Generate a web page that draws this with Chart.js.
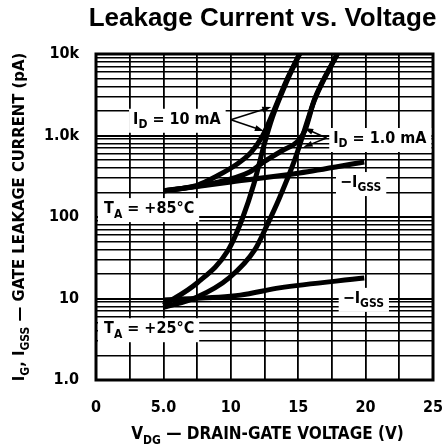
<!DOCTYPE html>
<html>
<head>
<meta charset="utf-8">
<script src="https://cdn.jsdelivr.net/npm/chart.js@4.4.1/dist/chart.umd.min.js"></script>
<style>
  html, body { margin: 0; padding: 0; background: #fff; }
  #wrap { width: 448px; height: 446px; }
</style>
</head>
<body>
<div id="wrap"><canvas id="leakChart" width="448" height="446"></canvas></div>
<script>
// V_DG (V) and leakage current (pA)
const id10mA25C_V  = [5, 7.5, 9.8, 10.9, 11.7, 12.5, 13.1, 14.1, 15.1];
const id10mA25C_pA = [8.3, 15.5, 39, 100, 250, 800, 1700, 4400, 10000];

const id1mA25C_V  = [5, 7.5, 9.9, 11.8, 12.7, 13.6, 14.7, 15.3, 16.2, 17.9];
const id1mA25C_pA = [7.8, 10.4, 18, 40, 80, 170, 480, 950, 2700, 10000];

const id10mA85C_V  = [5, 7.5, 9, 10.5, 11.5, 12.3, 13.1, 14.1, 15.1];
const id10mA85C_pA = [210, 245, 320, 450, 620, 950, 1850, 4600, 10000];

const id1mA85C_V  = [5, 8.8, 11.4, 12.5, 13.8, 15, 15.5, 16.2, 17.9];
const id1mA85C_pA = [208, 262, 357, 480, 650, 860, 1150, 2750, 10000];

const igss85C_V  = [5, 10, 15.1, 19.9];
const igss85C_pA = [208, 269, 347, 473];

const igss25C_V  = [5, 10.7, 13.6, 19.9];
const igss25C_pA = [9.6, 11, 13.5, 17.8];

const xTickValues = [0, 5, 10, 15, 20, 25];
const xTickLabels = ['0', '5.0', '10', '15', '20', '25'];
const yTickValues = [1, 10, 100, 1000, 10000];
const yTickLabels = ['1.0', '10', '100', '1.0k', '10k'];

const FAMILY = "'Liberation Sans Narrow', 'DejaVu Sans Condensed', sans-serif";

// labels on the plot, placed in data units
const notes = [
  { parts: [['I'], ['D', 1], [' = 10 mA']], v: 2.75, pA: 1560 },
  { parts: [['I'], ['D', 1], [' = 1.0 mA']], v: 17.6, pA: 906 },
  { parts: [['−I'], ['GSS', 1]], v: 18.1, pA: 261 },
  { parts: [['−I'], ['GSS', 1]], v: 18.3, pA: 9.9 },
  { parts: [['T'], ['A', 1], [' = +85°C']], v: 0.6, pA: 125, toAxis: true },
  { parts: [['T'], ['A', 1], [' = +25°C']], v: 0.6, pA: 4.2, toAxis: true }
];
const arrows = [
  { from: [10.0, 1560], to: [13.0, 2236] },
  { from: [10.0, 1560], to: [12.45, 1135] },
  { from: [17.1, 931], to: [15.45, 1236] },
  { from: [17.1, 931], to: [15.4, 722] }
];

function toPoints(xs, ys) {
  return xs.map((v, i) => ({ x: v, y: ys[i] }));
}

function setFont(ctx, size, sub) {
  ctx.font = 'bold ' + (sub ? Math.round(size * 0.72) : size) + 'px ' + FAMILY;
}

function richWidth(ctx, parts, size) {
  let w = 0;
  parts.forEach(p => {
    setFont(ctx, size, p[1]);
    w += ctx.measureText(p[0]).width;
  });
  return w;
}

function drawRich(ctx, parts, x, y, size) {
  let cx = x;
  parts.forEach(p => {
    setFont(ctx, size, p[1]);
    ctx.fillText(p[0], cx, p[1] ? y + size * 0.33 : y);
    cx += ctx.measureText(p[0]).width;
  });
}

function drawArrow(ctx, x1, y1, x2, y2) {
  const ang = Math.atan2(y2 - y1, x2 - x1);
  ctx.beginPath();
  ctx.moveTo(x1, y1);
  ctx.lineTo(x2 - 6 * Math.cos(ang), y2 - 6 * Math.sin(ang));
  ctx.stroke();
  ctx.beginPath();
  ctx.moveTo(x2, y2);
  ctx.lineTo(x2 - 9 * Math.cos(ang) + 3 * Math.sin(ang), y2 - 9 * Math.sin(ang) - 3 * Math.cos(ang));
  ctx.lineTo(x2 - 9 * Math.cos(ang) - 3 * Math.sin(ang), y2 - 9 * Math.sin(ang) + 3 * Math.cos(ang));
  ctx.closePath();
  ctx.fill();
}

const sheetText = {
  id: 'sheetText',
  beforeDatasetsDraw(chart) {
    const { ctx, chartArea: a, scales: { x, y } } = chart;
    ctx.save();
    ctx.strokeStyle = '#000';
    ctx.lineWidth = 3;
    ctx.strokeRect(a.left, a.top, a.right - a.left, a.bottom - a.top);

    ctx.textBaseline = 'middle';
    ctx.textAlign = 'left';
    notes.forEach(n => {
      const px = x.getPixelForValue(n.v);
      const py = y.getPixelForValue(n.pA);
      const w = richWidth(ctx, n.parts, 16);
      const left = n.toAxis ? a.left + 2 : px - 4;
      ctx.fillStyle = '#fff';
      ctx.fillRect(left, py - 11, px + w + 5 - left, 24);
      ctx.fillStyle = '#000';
      drawRich(ctx, n.parts, px, py, 16);
    });

    ctx.lineWidth = 1.5;
    arrows.forEach(ar => {
      drawArrow(ctx,
        x.getPixelForValue(ar.from[0]), y.getPixelForValue(ar.from[1]),
        x.getPixelForValue(ar.to[0]), y.getPixelForValue(ar.to[1]));
    });
    ctx.restore();
  },
  afterDraw(chart) {
    const { ctx, chartArea: a } = chart;
    const cx = (a.left + a.right) / 2;
    ctx.save();
    ctx.fillStyle = '#000';
    ctx.textBaseline = 'middle';
    ctx.textAlign = 'center';
    ctx.font = "bold 26px 'Liberation Sans', Arial, sans-serif";
    ctx.fillText('Leakage Current vs. Voltage', cx - 2, 19);

    ctx.textAlign = 'left';
    const xt = [['V'], ['DG', 1], [' — DRAIN-GATE VOLTAGE (V)']];
    drawRich(ctx, xt, cx + 3 - richWidth(ctx, xt, 17) / 2, 435, 17);

    const yt = [['I'], ['G', 1], [', I'], ['GSS', 1], [' — GATE LEAKAGE CURRENT (pA)']];
    ctx.translate(20, (a.top + a.bottom) / 2);
    ctx.rotate(-Math.PI / 2);
    drawRich(ctx, yt, -richWidth(ctx, yt, 16.5) / 2, 0, 16.5);
    ctx.restore();
  }
};

const curveStyle = {
  borderColor: '#000',
  backgroundColor: '#000',
  borderWidth: 5,
  pointRadius: 0,
  cubicInterpolationMode: 'monotone',
  fill: false,
  clip: 0
};

new Chart(document.getElementById('leakChart'), {
  type: 'line',
  data: {
    datasets: [
      { ...curveStyle, label: 'ID = 10 mA, 25°C', data: toPoints(id10mA25C_V, id10mA25C_pA) },
      { ...curveStyle, label: 'ID = 1.0 mA, 25°C', data: toPoints(id1mA25C_V, id1mA25C_pA) },
      { ...curveStyle, label: 'ID = 10 mA, 85°C', data: toPoints(id10mA85C_V, id10mA85C_pA) },
      { ...curveStyle, label: 'ID = 1.0 mA, 85°C', data: toPoints(id1mA85C_V, id1mA85C_pA) },
      { ...curveStyle, label: '-IGSS, 85°C', data: toPoints(igss85C_V, igss85C_pA) },
      { ...curveStyle, label: '-IGSS, 25°C', data: toPoints(igss25C_V, igss25C_pA) }
    ]
  },
  options: {
    responsive: false,
    animation: false,
    layout: { padding: { top: 54, right: 15, left: 0, bottom: 0 } },
    plugins: {
      legend: { display: false },
      tooltip: { enabled: false }
    },
    scales: {
      x: {
        type: 'linear',
        min: 0,
        max: 25,
        afterFit: s => {
          s.height = 66;
          s.paddingLeft = 0;
          s.paddingRight = 0;
        },
        border: { display: false },
        grid: { color: '#000', lineWidth: 1.8, drawTicks: false },
        ticks: {
          stepSize: 2.5,
          autoSkip: false,
          maxRotation: 0,
          padding: 18,
          color: '#000',
          font: { family: FAMILY, size: 16, weight: 'bold' },
          callback: v => {
            const i = xTickValues.indexOf(v);
            return i >= 0 ? xTickLabels[i] : '';
          }
        }
      },
      y: {
        type: 'logarithmic',
        min: 1,
        max: 10000,
        afterFit: s => {
          s.width = 96;
          s.paddingTop = 0;
          s.paddingBottom = 0;
        },
        afterBuildTicks: s => {
          const list = [];
          yTickValues.slice(0, -1).forEach(d => {
            for (let m = 1; m < 10; m++) list.push(d * m);
          });
          list.push(yTickValues[yTickValues.length - 1]);
          s.ticks = list.map(v => ({ value: v }));
        },
        border: { display: false },
        grid: {
          color: '#000',
          drawTicks: false,
          lineWidth: c => (yTickValues.includes(c.tick && c.tick.value) ? 2 : 1.5)
        },
        ticks: {
          autoSkip: false,
          padding: 17,
          color: '#000',
          font: { family: FAMILY, size: 16, weight: 'bold' },
          callback: v => {
            const i = yTickValues.indexOf(v);
            return i >= 0 ? yTickLabels[i] : '';
          }
        }
      }
    }
  },
  plugins: [sheetText]
});
</script>
</body>
</html>
